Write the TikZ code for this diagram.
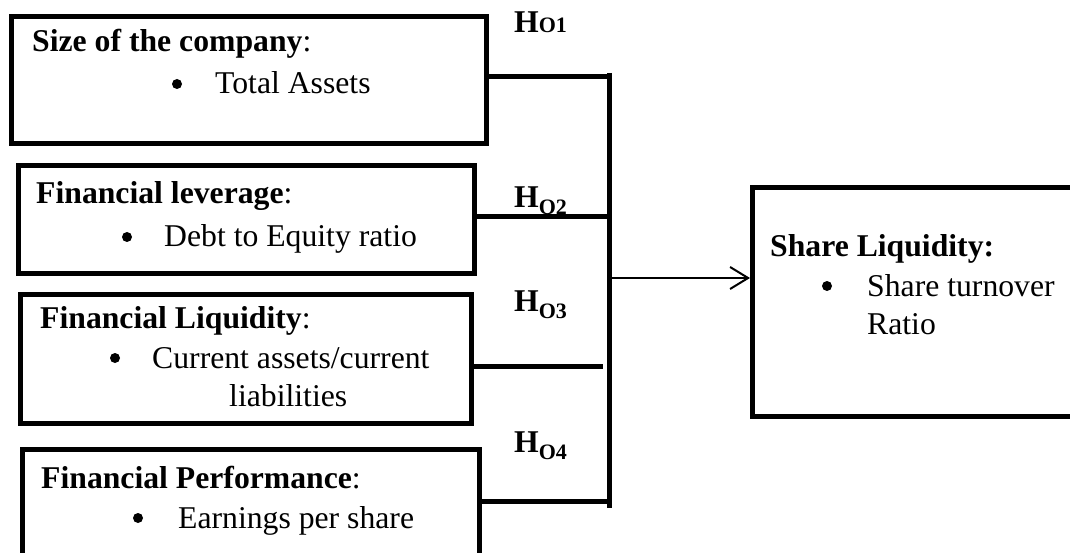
\documentclass[tikz,border=0pt]{standalone}
\usepackage{fontspec}
\setmainfont{Liberation Serif}
\usetikzlibrary{arrows.meta}

\newcommand{\hsub}[1]{\raisebox{-7pt}{\fontsize{22}{26}\selectfont\bfseries #1}}

\begin{document}
\begin{tikzpicture}[x=1pt,y=-1pt,
  box/.style={draw,line width=5pt,rectangle,anchor=north west,inner sep=0pt},
  conn/.style={line width=5pt},
  arr/.style={line width=2pt,-{Straight Barb[length=18pt,width=22pt,line width=2pt]}},
  dot/.style={circle,fill,inner sep=0pt,minimum size=10pt},
  txt/.style={anchor=base west,inner sep=0pt,font=\fontsize{31.7}{38}\selectfont},
  hyp/.style={anchor=base west,inner sep=0pt,font=\fontsize{31.7}{38}\selectfont\bfseries}]
\useasboundingbox (0,0) rectangle (1070,553);
\clip (0,0) rectangle (1070,553);

% independent variable boxes
\node[box,minimum width=475pt,minimum height=127pt] (b1) at (9,14) {};
\node[box,minimum width=456pt,minimum height=108pt] (b2) at (16,163) {};
\node[box,minimum width=451pt,minimum height=129pt] (b3) at (18,292) {};
\node[box,minimum width=457pt,minimum height=130pt] (b4) at (20,447) {};
% dependent variable box
\node[box,minimum width=340pt,minimum height=229pt] (sl) at (750,185) {};

% box texts
\node[txt] (t1a) at (32,52) {\textbf{Size of the company}:};
\node[dot] (t1b) at (177,84) {};
\node[txt] (t1c) at (215,94) {Total Assets};

\node[txt] (t2a) at (36,204) {\textbf{Financial leverage}:};
\node[dot] (t2b) at (127,237) {};
\node[txt] (t2c) at (164,247) {Debt to Equity ratio};

\node[txt] (t3a) at (40,328) {\textbf{Financial Liquidity}:};
\node[dot] (t3b) at (115,358) {};
\node[txt] (t3c) at (152,368) {Current assets/current};
\node[txt] (t3d) at (229,406) {liabilities};

\node[txt] (t4a) at (41,488) {\textbf{Financial Performance}:};
\node[dot] (t4b) at (138,518) {};
\node[txt] (t4c) at (178,528) {Earnings per share};

\node[txt] (t5a) at (770,256) {\textbf{Share Liquidity:}};
\node[dot] (t5b) at (827,286) {};
\node[txt] (t5c) at (867,296) {Share turnover};
\node[txt] (t5d) at (867,334) {Ratio};

% hypothesis labels
\node[hyp] (h1) at (514,33) {H{\fontsize{22}{26}\selectfont O1}};
\node[hyp] (h2) at (514,208) {H\hsub{O2}};
\node[hyp] (h3) at (514,311) {H\hsub{O3}};
\node[hyp] (h4) at (514,452) {H\hsub{O4}};

% bus and connectors
\coordinate (bt) at (609,73);
\coordinate (bb) at (609,508);
\coordinate (j1) at (609,77);
\coordinate (j2) at (609,217);
\coordinate (j3) at (603,366);
\coordinate (j4) at (609,501);
\coordinate (ja) at (609,278);

\draw[conn] (bt) -- (bb);
\draw[conn] (b1.east |- j1) -- (j1);
\draw[conn] (b2.east |- j2) -- (j2);
\draw[conn] (b3.east |- j3) -- (j3);
\draw[conn] (b4.east |- j4) -- (j4);
\draw[arr] (ja) -- (ja -| sl.west);
\end{tikzpicture}
\end{document}
